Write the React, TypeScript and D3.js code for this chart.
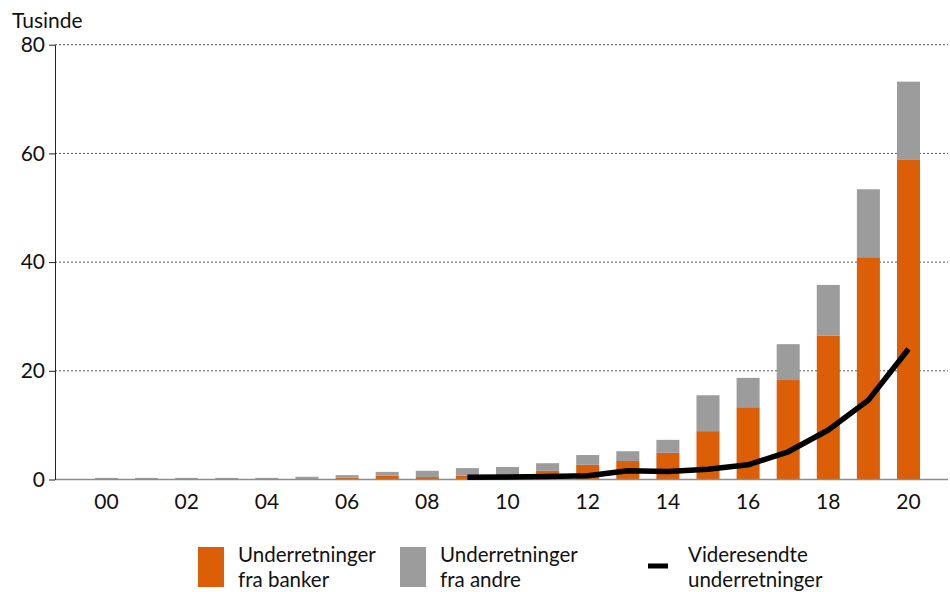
import * as d3 from "d3";
import { useEffect, useRef } from "react";

// values in thousands
const years = d3.range(2000, 2021).map(String);
const banks = [0.1, 0.1, 0.1, 0.1, 0.1, 0.1, 0.35, 0.7, 0.45, 0.7, 0.3, 1.6, 2.7, 3.4, 4.9, 8.9, 13.3, 18.3, 26.5, 40.9, 58.8];
const others = [0.2, 0.2, 0.2, 0.2, 0.2, 0.4, 0.45, 0.7, 1.15, 1.4, 2.0, 1.4, 1.8, 1.8, 2.4, 6.6, 5.4, 6.6, 9.3, 12.5, 14.4];
const lineYears = ["2009", "2010", "2011", "2012", "2013", "2014", "2015", "2016", "2017", "2018", "2019", "2020"];
const forwarded = [0.4, 0.45, 0.55, 0.7, 1.6, 1.45, 1.9, 2.7, 5.1, 9.1, 14.6, 24.0];
const yTicks = [0, 20, 40, 60, 80];

const ORANGE = "#dc5f08";
const GREY = "#9c9c9c";
const FONT = "Lato, 'Noto Sans', sans-serif";

const App = () => {
  const ref = useRef<SVGSVGElement>(null);

  useEffect(() => {
    const svg = d3.select(ref.current);
    svg.selectAll("*").remove();

    const left = 55, right = 948;
    const y = d3.scaleLinear().domain([0, 80]).range([479.5, 44.7]);
    const x = d3.scaleBand().domain(years).range([86.45, 928.55]).paddingInner(0.426).paddingOuter(0.213);
    const bw = x.bandwidth();

    // gridlines
    svg.append("g").selectAll("line").data(yTicks.filter(t => t > 0)).enter().append("line")
      .attr("x1", left).attr("x2", right)
      .attr("y1", d => y(d)).attr("y2", d => y(d))
      .attr("stroke", "#555").attr("stroke-width", 1).attr("stroke-dasharray", "2,2");

    // stacked bars
    const g = svg.append("g");
    g.selectAll("rect.bank").data(years).enter().append("rect")
      .attr("x", d => x(d)!)
      .attr("width", bw)
      .attr("y", (d, i) => y(banks[i]))
      .attr("height", (d, i) => y(0) - y(banks[i]))
      .attr("fill", ORANGE);
    g.selectAll("rect.other").data(years).enter().append("rect")
      .attr("x", d => x(d)!)
      .attr("width", bw)
      .attr("y", (d, i) => y(banks[i] + others[i]))
      .attr("height", (d, i) => y(banks[i]) - y(banks[i] + others[i]))
      .attr("fill", GREY);

    // baseline
    svg.append("line").attr("x1", left).attr("x2", right).attr("y1", y(0)).attr("y2", y(0))
      .attr("stroke", "#8c8c8c").attr("stroke-width", 1.5);

    // y axis
    const yAxis = svg.append("g").attr("transform", `translate(${left},0)`)
      .call(d3.axisLeft(y).tickValues(yTicks).tickSize(6).tickSizeOuter(0).tickPadding(4));
    yAxis.select(".domain").attr("stroke", "#222");
    yAxis.selectAll(".tick line").attr("stroke", "#222");
    yAxis.selectAll("text").attr("font-family", FONT).attr("font-size", 21).attr("fill", "#111");

    // line
    const line = d3.line<number>()
      .x((d, i) => x(lineYears[i])! + bw / 2)
      .y(d => y(d));
    svg.append("path").datum(forwarded).attr("d", line)
      .attr("fill", "none").attr("stroke", "#000").attr("stroke-width", 5.5).attr("stroke-linejoin", "round");

    // x labels
    svg.append("g").selectAll("text").data(years.filter((d, i) => i % 2 === 0)).enter().append("text")
      .attr("x", d => x(d)! + bw / 2)
      .attr("y", 509)
      .attr("text-anchor", "middle")
      .attr("font-family", FONT).attr("font-size", 21).attr("fill", "#111")
      .text(d => d.slice(2));

    // unit
    svg.append("text").attr("x", 12).attr("y", 28).attr("font-family", FONT).attr("font-size", 21)
      .attr("fill", "#111").text("Tusinde");

    // legend
    const leg = svg.append("g").attr("font-family", FONT).attr("font-size", 20.5).attr("fill", "#111");
    leg.append("rect").attr("x", 198).attr("y", 547).attr("width", 26).attr("height", 40).attr("fill", ORANGE);
    leg.append("rect").attr("x", 400).attr("y", 547).attr("width", 26).attr("height", 40).attr("fill", GREY);
    leg.append("line").attr("x1", 648).attr("x2", 668).attr("y1", 566).attr("y2", 566)
      .attr("stroke", "#000").attr("stroke-width", 5);
    const items = [
      { x: 238, lines: ["Underretninger", "fra banker"] },
      { x: 440, lines: ["Underretninger", "fra andre"] },
      { x: 688, lines: ["Videresendte", "underretninger"] },
    ];
    items.forEach(it => {
      it.lines.forEach((t, j) => {
        leg.append("text").attr("x", it.x).attr("y", 562 + j * 24.5).text(t);
      });
    });
  }, []);

  return (
    <svg ref={ref} width={950} height={592} style={{ position: "absolute", left: 0, top: 0, background: "#fff" }} />
  );
};

export default App;
